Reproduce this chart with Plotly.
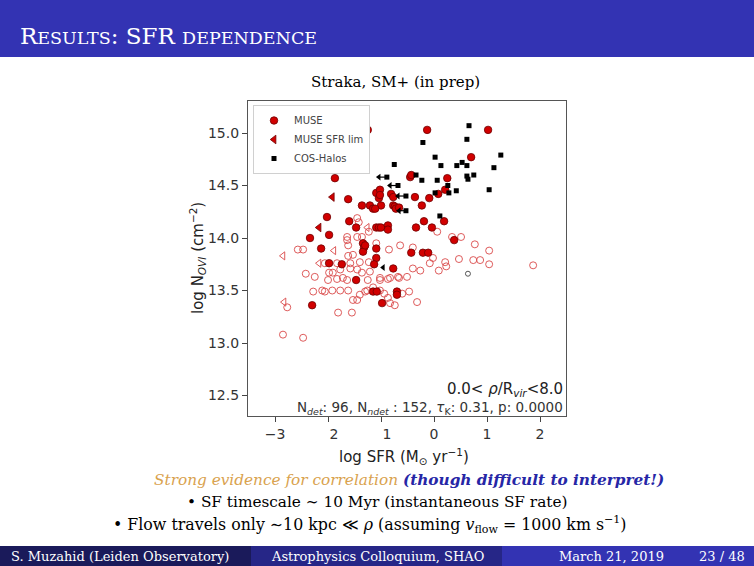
import plotly.graph_objects as go

W, H = 754, 566

# ---- values: log SFR (Msun/yr) vs log N_OVI (cm^-2) ----
# MUSE detections (filled red circles)
muse_det_sfr = [-1.25, -0.13, 1.02, 0.70, -1.87, -0.45, -0.43, 0.25, 0.21, 0.08,
                -1.09, -1.02, -1.04, -1.02, -0.81, -0.77, -0.36, -0.09, -1.62, -1.36,
                -1.21, -1.15, -1.00, -0.77, -0.74, -0.72, -0.66, -0.23, -1.11, -2.02,
                -1.60, -0.19, 0.19, -1.47, -1.09, -1.04, -1.00, -0.87, -0.87, -0.34,
                -0.04, -1.98, -2.34, 0.38, -2.13, -1.34, -1.32, -1.34, -1.30, -1.09,
                -0.43, -0.21, -0.11, -1.09, -1.98, -1.74, -0.77, -1.13, -1.47, -1.15,
                -1.08, -0.70, -0.70, -0.98, -2.30]
muse_det_logn = [15.03, 15.03, 15.03, 14.77, 14.57, 14.58, 14.60, 14.57, 14.46, 14.42,
                 14.43, 14.46, 14.38, 14.41, 14.42, 14.39, 14.39, 14.38, 14.37, 14.31,
                 14.31, 14.28, 14.31, 14.31, 14.30, 14.28, 14.29, 14.31, 14.28, 14.20,
                 14.16, 14.16, 14.16, 14.10, 14.10, 14.10, 14.10, 14.12, 14.08, 14.10,
                 14.10, 14.03, 14.00, 13.98, 13.90, 13.95, 13.91, 13.87, 13.93, 13.90,
                 13.86, 13.86, 13.86, 13.81, 13.76, 13.75, 13.71, 13.75, 13.60, 13.49,
                 13.49, 13.49, 13.46, 13.38, 13.36]

# MUSE detections with SFR upper limits (filled red left triangles)
muse_sfrlim_sfr = [-1.92, -2.17]
muse_sfrlim_logn = [14.39, 14.10]

# MUSE non-detections (open red circles)
muse_ndet_sfr = [-2.57, -2.47, -2.42, -2.25, -2.06, -1.98, -1.91, -1.77, -1.72, -1.83,
                 -2.00, -1.64, -1.83, -1.58, -1.62, -1.53, -1.62, -1.64, -1.45, -1.36,
                 -1.23, -1.45, -1.58, -1.40, -1.23, -1.36, -1.25, -1.21, -1.02, -0.87,
                 -0.68, -0.51, -1.09, -0.85, -0.64, -0.40, -2.28, -2.11, -2.06, -1.92,
                 -1.77, -1.62, -1.30, -1.26, -1.40, -1.45, -1.53, -1.02, -0.94, -0.87,
                 -0.83, -0.74, -0.60, -0.47, -0.32, -1.81, -1.55, -2.85, -2.47, -2.77,
                 0.06, 0.34, 0.51, 0.77, -0.02, 0.21, 0.23, 0.09, -0.08, 0.47,
                 0.74, 0.87, 1.04, 1.04, 1.87, -0.40, -0.26, -1.02, -0.83, -0.66,
                 -1.15, -1.45, -1.42, -1.64]
muse_ndet_logn = [13.89, 13.89, 13.66, 13.63, 13.76, 13.67, 13.67, 13.70, 13.62, 13.61,
                  13.60, 13.60, 13.76, 13.76, 13.83, 13.84, 13.93, 14.01, 14.01, 14.01,
                  14.06, 13.70, 13.71, 13.77, 13.77, 13.67, 13.60, 13.68, 13.60, 13.61,
                  13.63, 13.63, 13.95, 13.89, 13.93, 13.91, 13.49, 13.50, 13.49, 13.50,
                  13.50, 13.50, 13.49, 13.50, 13.46, 13.41, 13.41, 13.50, 13.47, 13.43,
                  13.38, 13.36, 13.47, 13.49, 13.39, 13.29, 13.29, 13.08, 13.05, 13.34,
                  14.06, 14.01, 14.01, 13.94, 13.81, 13.77, 13.73, 13.69, 13.76, 13.80,
                  13.79, 13.79, 13.88, 13.75, 13.74, 13.71, 13.69, 13.62, 13.62, 13.62,
                  13.53, 14.19, 14.15, 13.98]

# MUSE non-detections with SFR upper limits (open red left triangles)
muse_ndet_sfrlim_sfr = [-2.85, -1.89, -2.17, -2.83, -1.26]
muse_ndet_sfrlim_logn = [13.83, 13.88, 13.76, 13.39, 14.10]

# COS-Halos (black squares)
cos_sfr = [0.66, -0.21, 0.62, 1.26, 0.02, -0.75, 0.13, 0.53, 0.43, 0.62,
           1.13, -0.34, -0.23, 0.06, 0.62, 0.64, 0.75, 0.26, 0.02, 0.28,
           0.42, 1.04, 0.11]
cos_logn = [15.07, 14.91, 14.94, 14.79, 14.77, 14.70, 14.69, 14.72, 14.69, 14.69,
            14.67, 14.60, 14.55, 14.55, 14.59, 14.56, 14.60, 14.50, 14.43, 14.43,
            14.45, 14.46, 14.21]

# COS-Halos with SFR upper limits (square + arrow to the left)
cos_lim_sfr = [-0.89, -0.68, -0.53, -0.53]
cos_lim_tip = [-1.04, -0.83, -0.68, -0.66]
cos_lim_logn = [14.58, 14.50, 14.40, 14.26]

# stray COS-Halos markers in the cloud
cos_ndet_sfr = [0.64]
cos_ndet_logn = [13.66]
cos_lim_ndet_sfr = [-0.96]
cos_lim_ndet_logn = [13.72]

xtick_vals = [-3, -2, -1, 0, 1, 2]
# the slide image lost the minus signs on -2 and -1
xtick_text = ["−3", "<span style='color:rgba(0,0,0,0)'>−</span>2",
              "<span style='color:rgba(0,0,0,0)'>−</span>1", "0", "1", "2"]
ytick_vals = [12.5, 13.0, 13.5, 14.0, 14.5, 15.0]

BLUE = "#3333b3"
RED = "#d10000"
RED_EDGE = "#6e0000"
OPEN_RED = "#d94848"
SANS = "DejaVu Sans"
SERIF = "DejaVu Serif"


def px(x):
    return x / W


def py(y):
    return 1 - y / H


fig = go.Figure()

fig.add_trace(go.Scatter(
    x=muse_ndet_sfr, y=muse_ndet_logn, mode="markers", showlegend=False,
    marker=dict(symbol="circle-open", size=7, color=OPEN_RED, line=dict(width=0.9)),
))
fig.add_trace(go.Scatter(
    x=muse_ndet_sfrlim_sfr, y=muse_ndet_sfrlim_logn, mode="markers", showlegend=False,
    marker=dict(symbol="triangle-left-open", size=7, color=OPEN_RED, line=dict(width=0.9)),
))
fig.add_trace(go.Scatter(
    x=muse_det_sfr, y=muse_det_logn, mode="markers", name="MUSE",
    marker=dict(symbol="circle", size=7.5, color=RED, line=dict(color=RED_EDGE, width=0.8)),
))
fig.add_trace(go.Scatter(
    x=muse_sfrlim_sfr, y=muse_sfrlim_logn, mode="markers", name="MUSE SFR lim",
    marker=dict(symbol="triangle-left", size=7.5, color=RED, line=dict(color=RED_EDGE, width=0.8)),
))
fig.add_trace(go.Scatter(
    x=cos_sfr, y=cos_logn, mode="markers", name="COS-Halos",
    marker=dict(symbol="square", size=5, color="black"),
))

# arrows for COS-Halos SFR limits
arrow_x, arrow_y = [], []
for x0, x1, yv in zip(cos_lim_sfr, cos_lim_tip, cos_lim_logn):
    arrow_x += [x0, x1, None]
    arrow_y += [yv, yv, None]
fig.add_trace(go.Scatter(x=arrow_x, y=arrow_y, mode="lines", showlegend=False,
                         line=dict(color="black", width=1.2)))
fig.add_trace(go.Scatter(x=cos_lim_tip, y=cos_lim_logn, mode="markers", showlegend=False,
                         marker=dict(symbol="triangle-left", size=6, color="black")))
fig.add_trace(go.Scatter(x=cos_lim_sfr, y=cos_lim_logn, mode="markers", showlegend=False,
                         marker=dict(symbol="square", size=5, color="black")))
fig.add_trace(go.Scatter(x=cos_lim_ndet_sfr, y=cos_lim_ndet_logn, mode="markers", showlegend=False,
                         marker=dict(symbol="triangle-left", size=6, color="black")))
fig.add_trace(go.Scatter(x=cos_ndet_sfr, y=cos_ndet_logn, mode="markers", showlegend=False,
                         marker=dict(symbol="circle-open", size=5, color="#555555",
                                     line=dict(width=1))))

axis_common = dict(
    showgrid=False, zeroline=False, showline=True, mirror=True,
    linecolor="#555555", linewidth=1.2,
    ticks="outside", ticklen=5, tickwidth=1, tickcolor="#444444",
    tickfont=dict(family=SANS, size=14, color="#333333"),
)

fig.update_layout(
    width=W, height=H,
    margin=dict(l=0, r=0, t=0, b=0),
    paper_bgcolor="white", plot_bgcolor="white",
    xaxis=dict(domain=[px(248), px(566)], range=[-3.51, 2.49],
               tickvals=xtick_vals, ticktext=xtick_text, **axis_common),
    yaxis=dict(domain=[py(416), py(101)], range=[12.305, 15.305],
               tickvals=ytick_vals, tickformat=".1f", **axis_common),
    legend=dict(x=px(253), y=py(105), xanchor="left", yanchor="top",
                bgcolor="white", bordercolor="#d0d0d0", borderwidth=1,
                font=dict(family=SANS, size=10, color="#444444"),
                itemwidth=30, traceorder="normal", tracegroupgap=0),
    shapes=[
        dict(type="rect", xref="paper", yref="paper", x0=0, x1=1, y0=py(57), y1=1,
             fillcolor=BLUE, line=dict(width=0), layer="below"),
        dict(type="rect", xref="paper", yref="paper", x0=0, x1=px(251), y0=0, y1=py(546),
             fillcolor="#1a1a5a", line=dict(width=0), layer="below"),
        dict(type="rect", xref="paper", yref="paper", x0=px(251), x1=px(502), y0=0, y1=py(546),
             fillcolor="#262687", line=dict(width=0), layer="below"),
        dict(type="rect", xref="paper", yref="paper", x0=px(502), x1=1, y0=0, y1=py(546),
             fillcolor=BLUE, line=dict(width=0), layer="below"),
    ],
)

sc = "font-size:17.5px"
annotations = [
    # slide title in small caps
    dict(x=px(18), y=py(36), xanchor="left", yanchor="middle",
         text=f"R<span style='{sc}'>ESULTS</span>: SFR <span style='{sc}'>DEPENDENCE</span>",
         font=dict(family=SERIF, size=23, color="white")),
    dict(x=px(395), y=py(82), xanchor="center", yanchor="middle",
         text="Straka, SM+ (in prep)", font=dict(family=SERIF, size=15, color="black")),
    # text inside the panel
    dict(x=px(565), y=py(389), xanchor="right", yanchor="middle",
         text="0.0&lt; <i>ρ</i>/R<sub><i>vir</i></sub>&lt;8.0",
         font=dict(family=SANS, size=15, color="#222222")),
    dict(x=px(565), y=py(408), xanchor="right", yanchor="middle",
         text="N<sub><i>det</i></sub>: 96, N<sub><i>ndet</i></sub> : 152, "
              "<i>τ</i><sub>K</sub>: 0.31, p: 0.0000",
         font=dict(family=SANS, size=13.5, color="#333333")),
    # axis titles
    dict(x=px(404), y=py(456), xanchor="center", yanchor="middle",
         text="log SFR (M<sub>⊙</sub> yr<sup>−1</sup>)",
         font=dict(family=SANS, size=15, color="#222222")),
    dict(x=px(197), y=py(258), xanchor="center", yanchor="middle", textangle=-90,
         text="log N<sub><i>OVI</i></sub> (cm<sup>−2</sup>)",
         font=dict(family=SANS, size=15, color="#222222")),
    # slide text under the figure
    dict(x=px(409), y=py(480), xanchor="center", yanchor="middle",
         text="<i><span style='color:#d9a24e'>Strong evidence for correlation</span> "
              "<b><span style='color:#2626a6'>(though difficult to interpret!)</span></b></i>",
         font=dict(family=SERIF, size=15.3)),
    dict(x=px(377), y=py(502), xanchor="center", yanchor="middle",
         text="• SF timescale ∼ 10 Myr (instantaneous SF rate)",
         font=dict(family=SERIF, size=15.3, color="black")),
    dict(x=px(370), y=py(524), xanchor="center", yanchor="middle",
         text="• Flow travels only ∼10 kpc ≪ <i>ρ</i> (assuming <i>v</i><sub>flow</sub> = 1000 km s<sup>−1</sup>)",
         font=dict(family=SERIF, size=15.8, color="black")),
    # footline
    dict(x=px(120), y=py(556), xanchor="center", yanchor="middle",
         text="S. Muzahid (Leiden Observatory)", font=dict(family=SERIF, size=13, color="white")),
    dict(x=px(377), y=py(556), xanchor="center", yanchor="middle",
         text="Astrophysics Colloquium, SHAO", font=dict(family=SERIF, size=13, color="white")),
    dict(x=px(611), y=py(556), xanchor="center", yanchor="middle",
         text="March 21, 2019", font=dict(family=SERIF, size=13, color="white")),
    dict(x=px(722), y=py(556), xanchor="center", yanchor="middle",
         text="23 / 48", font=dict(family=SERIF, size=13, color="white")),
]
for a in annotations:
    a.update(xref="paper", yref="paper", showarrow=False)
fig.update_layout(annotations=annotations)

# the page's default 8px body margin would push the slide off-canvas
fig.write_html("out.html", config={"displayModeBar": False},
               post_script="document.body.style.margin='0px';")
